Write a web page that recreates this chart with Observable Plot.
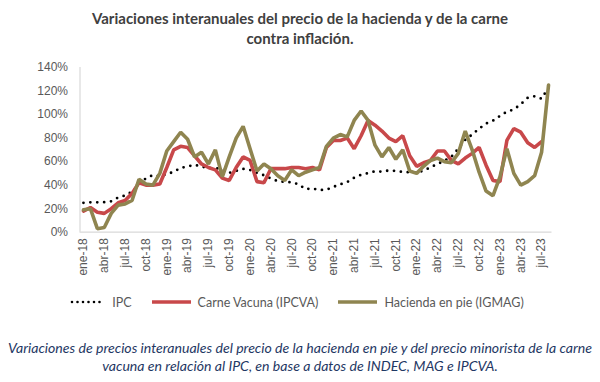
<!DOCTYPE html>
<html><head><meta charset="utf-8">
<script src="https://cdn.jsdelivr.net/npm/d3@7"></script>
<script src="https://cdn.jsdelivr.net/npm/@observablehq/plot@0.6"></script>
<style>
body{margin:0;width:600px;height:382px;background:#fff;font-family:Lato,"Liberation Sans",sans-serif;overflow:hidden;}
#title{height:50px;box-sizing:border-box;padding-top:8px;text-align:center;font-weight:bold;font-size:15px;line-height:20px;color:#404040;}
#legend{height:34px;display:flex;justify-content:center;align-items:center;font-size:12.5px;color:#595959;padding-top:0px;box-sizing:border-box;padding-right:6px;}
#legend .it{display:flex;align-items:center;margin:0 10px;}
#legend svg{margin-right:5px;}
#caption{text-align:center;font-style:italic;font-size:14.1px;line-height:18px;color:#1F3864;padding-top:20px;white-space:nowrap;}
</style></head><body>
<div id="title">Variaciones interanuales del precio de la hacienda y de la carne<br>contra inflación.</div>
<div id="chart"></div>
<div id="legend"></div>
<div id="caption">Variaciones de precios interanuales del precio de la hacienda en pie y del precio minorista de la carne<br>vacuna en relación al IPC, en base a datos de INDEC, MAG e IPCVA.</div>
<script>
const meses = ["ene","feb","mar","abr","may","jun","jul","ago","sep","oct","nov","dic"];
const anios = ["18","19","20","21","22","23"];
const tickLabels = ["ene-18","abr-18","jul-18","oct-18","ene-19","abr-19","jul-19","oct-19","ene-20","abr-20","jul-20","oct-20","ene-21","abr-21","jul-21","oct-21","ene-22","abr-22","jul-22","oct-22","ene-23","abr-23","jul-23"];
const yTicks = [0,20,40,60,80,100,120,140];

const ipc = [25.0,25.4,25.4,25.5,26.3,29.5,31.2,34.4,40.5,45.9,48.5,47.6,
  49.3,51.3,54.7,55.8,57.3,55.8,54.4,54.5,53.5,50.5,52.1,53.8,
  52.9,50.3,48.4,45.6,43.4,42.8,42.4,40.7,36.6,37.2,35.8,36.1,
  38.5,40.7,42.6,46.3,48.8,50.2,51.8,51.4,52.5,52.1,51.2,50.9,
  50.7,52.3,55.1,58.0,60.7,64.0,71.0,78.5,83.0,88.0,92.4,94.8,
  98.8,102.5,104.3,108.8,114.2,115.6,113.4,123.0];
const carne = [18,21,17,16,20,25,27,33,42,40,40,41,
  55,70,73,72,65,58,55,53,46,44,55,64,
  61,43,42,54,54,54,55,55,54,55,53,72,
  78,78,80,71,82,95,91,86,80,77,82,65,
  56,59,61,69,69,61,58,63,67,72,57,44,
  43,78,88,85,76,72,77];
const hacienda = [19,20,3,4,16,23,24,27,45,41,40,50,
  69,77,85,79,64,68,58,70,47,64,80,90,
  71,52,58,54,48,44,53,48,51,53,55,73,
  80,83,81,95,103,95,74,64,72,62,70,52,
  50,56,61,63,60,59,67,86,70,51,35,31,
  47,71,50,40,43,48,68,125];

const periodos = [];
anios.forEach(a => meses.forEach(m => periodos.push(m + "-" + a)));
periodos.length = 68;

const rows = (arr, serie) => arr.map((v, i) => ({i, v, serie}));
const tickIdx = tickLabels.map(t => periodos.indexOf(t));

const chart = Plot.plot({
  width: 600, height: 235,
  marginLeft: 79.5, marginRight: 48.5, marginTop: 17, marginBottom: 53.3,
  style: {fontFamily: "'Liberation Sans', Arial, sans-serif", fontSize: "12px", color: "#595959", background: "#fff"},
  x: {domain: [-0.5, 67.5]},
  y: {domain: [0, 140]},
  marks: [
    Plot.ruleY([0], {stroke: "#D9D9D9", strokeWidth: 1.2}),
    Plot.ruleX([-0.5], {stroke: "#D9D9D9", strokeWidth: 1.2}),
    Plot.axisY({ticks: yTicks, tickFormat: d => d + "%", tickSize: 0, tickPadding: 12, label: null, fill: "#595959"}),
    Plot.axisX({ticks: tickIdx, tickFormat: i => periodos[i], tickSize: 0, tickPadding: 6, tickRotate: -90, label: null, fill: "#595959"}),
    Plot.line(rows(ipc, "IPC"), {x: "i", y: "v", stroke: "#000", strokeWidth: 2.8, strokeDasharray: "0 6.9", strokeLinecap: "round"}),
    Plot.line(rows(carne, "Carne"), {x: "i", y: "v", stroke: "#C8484A", strokeWidth: 3.6, strokeLinejoin: "miter"}),
    Plot.line(rows(hacienda, "Hacienda"), {x: "i", y: "v", stroke: "#8F8550", strokeWidth: 3.6, strokeLinejoin: "miter"})
  ]
});
document.getElementById("chart").appendChild(chart);

const legendItems = [
  {label: "IPC", stroke: "#000", dash: "0 5.5", w: 2.6, cap: "round", len: 37},
  {label: "Carne Vacuna (IPCVA)", stroke: "#C8484A", dash: null, w: 3.6, cap: "butt", len: 41},
  {label: "Hacienda en pie (IGMAG)", stroke: "#8F8550", dash: null, w: 3.6, cap: "butt", len: 41}
];
const lg = document.getElementById("legend");
legendItems.forEach(d => {
  const it = document.createElement("div"); it.className = "it";
  it.innerHTML = `<svg width="${d.len}" height="10"><line x1="${d.cap==='round'?2:0}" x2="${d.len-2}" y1="5" y2="5" stroke="${d.stroke}" stroke-width="${d.w}" ${d.dash?`stroke-dasharray="${d.dash}"`:""} stroke-linecap="${d.cap}"/></svg><span>${d.label}</span>`;
  lg.appendChild(it);
});
</script>
</body></html>
